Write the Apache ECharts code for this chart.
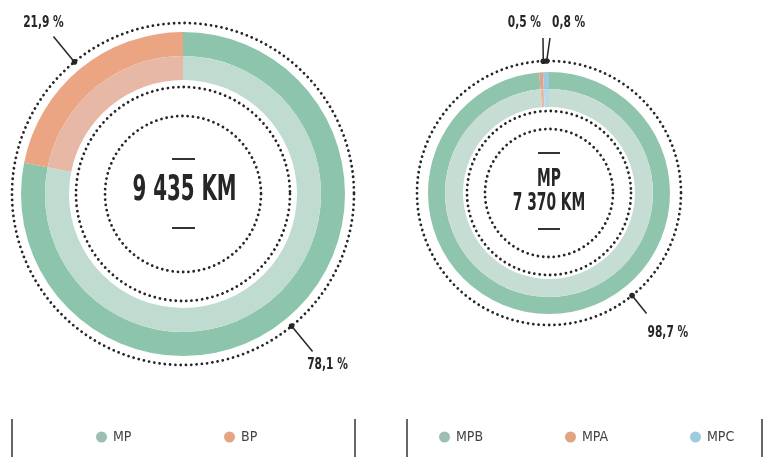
<!DOCTYPE html>
<html><head><meta charset="utf-8">
<script src="https://cdn.jsdelivr.net/npm/echarts@6/dist/echarts.min.js"></script>
<style>html,body{margin:0;padding:0;background:#fff}#c{width:765px;height:467px}</style>
</head><body><div id="c"></div>
<script>
// ---- data ----
const leftCategories = ['MP', 'BP'];
const leftValues = [78.1, 21.9];
const leftTotalLabel = '9 435 KM';
const rightCategories = ['MPB', 'MPA', 'MPC'];
const rightValues = [98.7, 0.5, 0.8];
const rightTitle = 'MP';
const rightTotalLabel = '7 370 KM';

// ---- styles ----
const FONT = '"DejaVu Sans Condensed", "Liberation Sans Narrow", sans-serif';
const INK = '#262626';
const outerColors = { MP: '#8dc4ac', BP: '#eba583', MPB: '#8fc5ad', MPA: '#e9a07e', MPC: '#9cc9de' };
const innerColors = { MP: '#c0dbcf', BP: '#e8b8a6', MPB: '#c6ddd4', MPA: '#eab8a6', MPC: '#b9d9e6' };
const legendColors = { MP: '#9dbfb2', BP: '#e5a585', MPB: '#9dbfb2', MPA: '#dfa583', MPC: '#9fcbe0' };

const L = { cx: 183, cy: 194, rIn: 114, rMid: 138, rOut: 162, dots: [171, 107, 78] };
const R = { cx: 549, cy: 193, rIn: 86, rMid: 104, rOut: 121, dots: [132, 82, 64] };

function fmt(v) { return v.toFixed(1).replace('.', ',') + ' %'; }

function pie(cats, vals, g, r0, r1, palette) {
  return {
    type: 'pie', center: [g.cx, g.cy], radius: [r0, r1], startAngle: 90, clockwise: true,
    silent: true, animation: false, label: { show: false }, labelLine: { show: false },
    emphasis: { disabled: true }, itemStyle: { borderWidth: 0 },
    data: cats.map((c, i) => ({ name: c, value: vals[i], itemStyle: { color: palette[c] } }))
  };
}

function midAngles(vals) {
  const total = vals.reduce((a, b) => a + b, 0);
  let cum = 0;
  return vals.map(v => { const a = 90 - (cum + v / 2) / total * 360; cum += v; return a * Math.PI / 180; });
}

const graphics = [];
function dotted(g) {
  g.dots.forEach(r => graphics.push({
    type: 'circle', silent: true, shape: { cx: g.cx, cy: g.cy, r: r },
    style: { fill: 'none', stroke: INK, lineWidth: 2.8, lineDash: [0.01, 5.3], lineCap: 'round' }
  }));
}
function dash(x, y, w) {
  graphics.push({ type: 'line', silent: true, shape: { x1: x - w / 2, y1: y, x2: x + w / 2, y2: y },
    style: { stroke: '#333', lineWidth: 2 } });
}
function text(x, y, t, size, weight, align, scaleX) {
  graphics.push({ type: 'text', silent: true, x: x, y: y, scaleX: scaleX || 1,
    style: { text: t, font: weight + ' ' + size + 'px ' + FONT, fill: INK, textAlign: align || 'center', textVerticalAlign: 'middle' } });
}
function leader(x0, y0, x1, y1) {
  graphics.push({ type: 'line', silent: true, shape: { x1: x0, y1: y0, x2: x1, y2: y1 }, style: { stroke: INK, lineWidth: 1.5 } });
  graphics.push({ type: 'circle', silent: true, shape: { cx: x0, cy: y0, r: 2.8 }, style: { fill: INK } });
}

dotted(L); dotted(R);
// centre texts
dash(183.5, 159, 23); dash(183.5, 228, 23);
text(184.5, 191, leftTotalLabel, 35, 'bold', 'center', 0.63);
dash(549, 153, 22); dash(549, 229, 22);
text(549, 180, rightTitle, 24, 'bold', 'center', 0.64);
text(549, 204, rightTotalLabel, 24, 'bold', 'center', 0.64);

// left annotations from data angles
const la = midAngles(leftValues);
la.forEach((a, i) => {
  const c = Math.cos(a), s = Math.sin(a);
  const x0 = L.cx + L.dots[0] * c, y0 = L.cy - L.dots[0] * s;
  const x1 = L.cx + 204 * c, y1 = L.cy - 204 * s;
  leader(x0, y0, x1, y1);
  text(x1 + (c < 0 ? -10 : 15), y1 + (s > 0 ? -14 : 13), fmt(leftValues[i]), 16, 'bold', 'center', 0.74);
});
// right annotations
const ra = midAngles(rightValues);
{
  const a = -51 * Math.PI / 180;
  const x0 = R.cx + R.dots[0] * Math.cos(a), y0 = R.cy - R.dots[0] * Math.sin(a);
  const x1 = R.cx + 155 * Math.cos(a), y1 = R.cy - 155 * Math.sin(a);
  leader(x0, y0, x1, y1);
  text(x1 + 1, y1 + 19, fmt(rightValues[0]), 16, 'bold', 'left', 0.74);
  const pA = [R.cx + R.dots[0] * Math.cos(ra[1]), R.cy - R.dots[0] * Math.sin(ra[1])];
  const pC = [R.cx + R.dots[0] * Math.cos(ra[2]), R.cy - R.dots[0] * Math.sin(ra[2])];
  leader(pA[0] + 3, pA[1], 543, 38);
  leader(pC[0] + 1, pC[1], 550, 38);
  text(541, 23, fmt(rightValues[1]), 16, 'bold', 'right', 0.74);
  text(552, 23, fmt(rightValues[2]), 16, 'bold', 'left', 0.74);
}
// separators
[12, 355, 407, 762].forEach(x => graphics.push({ type: 'line', silent: true,
  shape: { x1: x, y1: 419, x2: x, y2: 457 }, style: { stroke: '#333', lineWidth: 1.5 } }));

// legends: one per item, positioned
const legendPos = { MP: 96, BP: 224, MPB: 439, MPA: 565, MPC: 690 };
const legends = leftCategories.concat(rightCategories).map(n => ({
  data: [{ name: n, itemStyle: { color: legendColors[n] } }],
  left: legendPos[n], top: 430, icon: 'circle', itemWidth: 11, itemHeight: 11,
  selectedMode: false, padding: 0,
  textStyle: { fontFamily: FONT, fontSize: 14, color: '#444', padding: [0, 0, 0, 1] }
}));

const chart = echarts.init(document.getElementById('c'), null, { renderer: 'canvas' });
chart.setOption({
  backgroundColor: '#ffffff',
  animation: false,
  legend: legends,
  series: [
    pie(leftCategories, leftValues, L, L.rMid, L.rOut, outerColors),
    pie(leftCategories, leftValues, L, L.rIn, L.rMid, innerColors),
    pie(rightCategories, rightValues, R, R.rMid, R.rOut, outerColors),
    pie(rightCategories, rightValues, R, R.rIn, R.rMid, innerColors)
  ],
  graphic: graphics
});
</script></body></html>
